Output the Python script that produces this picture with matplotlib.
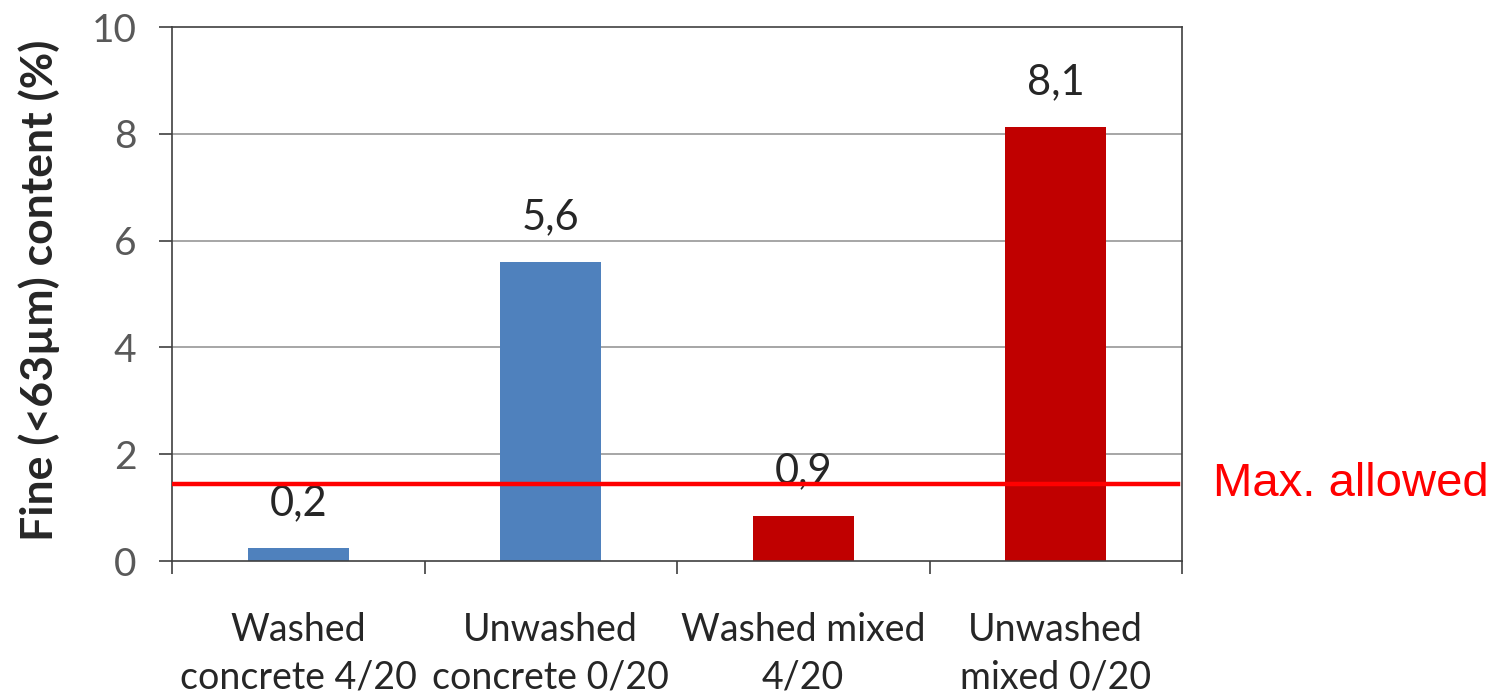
import matplotlib
matplotlib.use("Agg")
import matplotlib.pyplot as plt
from matplotlib.transforms import blended_transform_factory

categories = ["Washed\nconcrete 4/20", "Unwashed\nconcrete 0/20",
              "Washed mixed\n4/20", "Unwashed\nmixed 0/20"]
values = [0.25, 5.6, 0.84, 8.13]
value_labels = ["0,2", "5,6", "0,9", "8,1"]
bar_colors = ["#4F81BD", "#4F81BD", "#C00000", "#C00000"]
max_allowed = 1.44
max_label = "Max. allowed"
yticks = [0, 2, 4, 6, 8, 10]
ylabel = "Fine (<63\u00b5m) content (%)"

FONT = ["Lato", "DejaVu Sans"]

fig = plt.figure(figsize=(15.05, 6.97), dpi=100)
ax = fig.add_axes([172/1505, 1-561/697, (1182-172)/1505, (561-27)/697])

x = list(range(len(categories)))
ax.bar(x, values, width=0.4, color=bar_colors, zorder=2)

ax.set_xlim(-0.5, 3.5)
ax.set_ylim(0, 10)
ax.set_yticks(yticks)
ax.set_yticklabels([str(t) for t in yticks], fontsize=28, color="#595959", family=FONT)
ax.tick_params(axis="y", length=9.5, width=1.2, pad=16, color="#404040", direction="out")
for t in yticks[1:-1]:
    ax.axhline(t, color="#A6A6A6", lw=1.4, zorder=1)

# x: major ticks at centres (invisible), minor ticks at boundaries
ax.set_xticks(x)
ax.set_xticklabels(categories, fontsize=27, color="#262626", family=FONT, linespacing=1.38)
ax.tick_params(axis="x", which="major", length=0, pad=37)
ax.set_xticks([-0.5, 0.5, 1.5, 2.5, 3.5], minor=True)
ax.tick_params(axis="x", which="minor", length=9.5, width=1.2, color="#404040", direction="out")

for s in ax.spines.values():
    s.set_color("#404040")
    s.set_linewidth(1.2)

for xi, v, lab in zip(x, values, value_labels):
    ax.annotate(lab, (xi, v), xytext=(0, 32), textcoords="offset points",
                ha="center", va="center", fontsize=30, color="#262626",
                family=FONT, zorder=3)

ax.axhline(max_allowed, xmin=0, xmax=0.996, color="#FF0000", lw=3.2, zorder=5)
trans = blended_transform_factory(fig.transFigure, ax.transData)
fig.text(1213/1505, max_allowed, max_label, transform=trans, fontsize=34,
         color="#FF0000", family=["Liberation Sans", "DejaVu Sans"],
         ha="left", va="center")

fig.text(39/1505, 1-290/697, ylabel, rotation=90, ha="center", va="center",
         fontsize=32, fontweight="bold", color="#262626", family=FONT)

fig.savefig("out.png", dpi=100, facecolor="white")
